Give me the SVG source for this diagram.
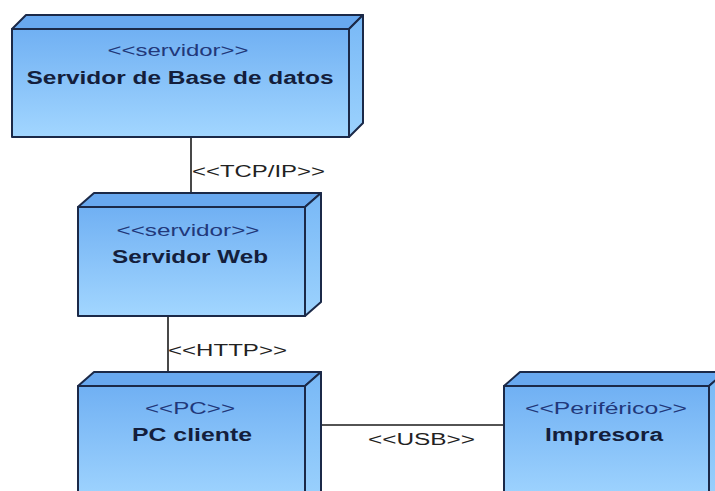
<svg xmlns="http://www.w3.org/2000/svg" width="715" height="491" viewBox="0 0 715 491">
<defs>
<linearGradient id="gFront" x1="0" y1="0" x2="0" y2="1">
<stop offset="0" stop-color="#70b0f3"/>
<stop offset="1" stop-color="#a2d6ff"/>
</linearGradient>
<linearGradient id="gSide" x1="0" y1="0" x2="0" y2="1">
<stop offset="0" stop-color="#78b8f6"/>
<stop offset="1" stop-color="#9cd2fd"/>
</linearGradient>
<style>
.face{stroke:#1b2948;stroke-width:2;stroke-linejoin:round}
.top{fill:#68a8ef}
.side{fill:url(#gSide)}
.front{fill:url(#gFront)}
.st{font-family:"Liberation Sans",Arial,sans-serif;font-size:16px;fill:#22387a;text-anchor:middle}
.nm{font-family:"Liberation Sans",Arial,sans-serif;font-size:18px;font-weight:bold;fill:#141e3c;text-anchor:middle}
.lbl{font-family:"Liberation Sans",Arial,sans-serif;font-size:16px;fill:#222}
.ln{stroke:#1a1a1a;stroke-width:1.6;fill:none}
</style>
</defs>
<rect width="715" height="491" fill="#ffffff"/>
<g id="connectors">
<line class="ln" x1="191" y1="137" x2="191" y2="193"/>
<text class="lbl" x="192" y="177" textLength="133" lengthAdjust="spacingAndGlyphs">&lt;&lt;TCP/IP&gt;&gt;</text>
<line class="ln" x1="168" y1="316" x2="168" y2="372"/>
<text class="lbl" x="168" y="356" textLength="119" lengthAdjust="spacingAndGlyphs">&lt;&lt;HTTP&gt;&gt;</text>
<line class="ln" x1="321" y1="425" x2="504" y2="425"/>
<text class="lbl" x="368" y="445" textLength="107" lengthAdjust="spacingAndGlyphs">&lt;&lt;USB&gt;&gt;</text>
</g>
<g id="node-bd">
<polygon class="face top" points="12,29 26,15 363,15 349,29"/>
<polygon class="face side" points="349,29 363,15 363,123 349,137"/>
<rect class="face front" x="12" y="29" width="337" height="108"/>
<text class="st" x="178" y="56" textLength="141" lengthAdjust="spacingAndGlyphs">&lt;&lt;servidor&gt;&gt;</text>
<text class="nm" x="180" y="84" textLength="307" lengthAdjust="spacingAndGlyphs">Servidor de Base de datos</text>
</g>
<g id="node-web">
<polygon class="face top" points="78,207 94,193 321,193 305,207"/>
<polygon class="face side" points="305,207 321,193 321,302 305,316"/>
<rect class="face front" x="78" y="207" width="227" height="109"/>
<text class="st" x="188" y="236" textLength="143" lengthAdjust="spacingAndGlyphs">&lt;&lt;servidor&gt;&gt;</text>
<text class="nm" x="190" y="263" textLength="156" lengthAdjust="spacingAndGlyphs">Servidor Web</text>
</g>
<g id="node-pc">
<polygon class="face top" points="78,386 94,372 321,372 305,386"/>
<polygon class="face side" points="305,386 321,372 321,492 305,506"/>
<rect class="face front" x="78" y="386" width="227" height="120"/>
<text class="st" x="190" y="414" textLength="90" lengthAdjust="spacingAndGlyphs">&lt;&lt;PC&gt;&gt;</text>
<text class="nm" x="192" y="441" textLength="120" lengthAdjust="spacingAndGlyphs">PC cliente</text>
</g>
<g id="node-impresora">
<polygon class="face top" points="504,386 520,372 725,372 709,386"/>
<polygon class="face side" points="709,386 725,372 725,492 709,506"/>
<rect class="face front" x="504" y="386" width="205" height="120"/>
<text class="st" x="606" y="414" textLength="162" lengthAdjust="spacingAndGlyphs">&lt;&lt;Periférico&gt;&gt;</text>
<text class="nm" x="604" y="441" textLength="118" lengthAdjust="spacingAndGlyphs">Impresora</text>
</g>
</svg>
